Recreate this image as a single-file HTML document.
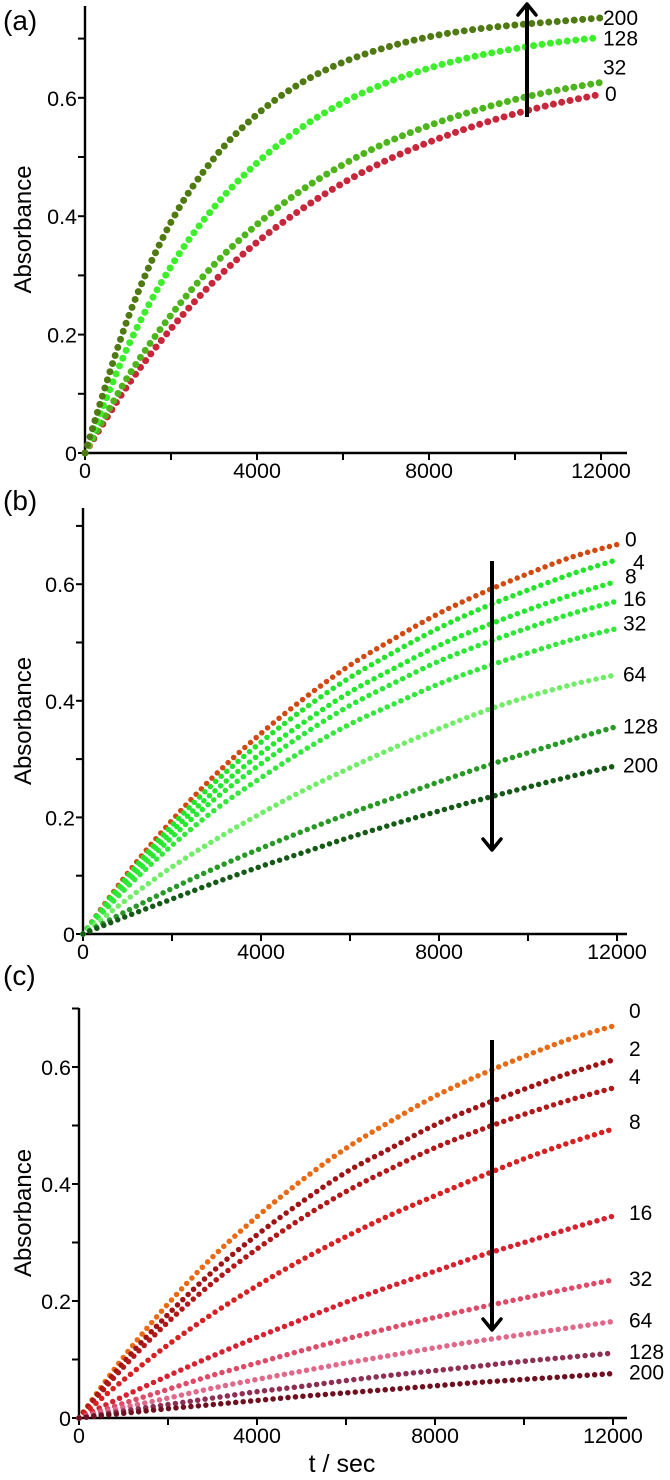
<!DOCTYPE html>
<html><head><meta charset="utf-8"><style>
html,body{margin:0;padding:0;background:#fff;width:670px;height:1480px;overflow:hidden}
svg{display:block;font-family:"Liberation Sans",sans-serif}
</style></head><body>
<svg id="chart" width="670" height="1480" viewBox="0 0 670 1480" xmlns="http://www.w3.org/2000/svg"></svg>
<script>
const times = [0,1000,2000,3000,4000,5000,6000,7000,8000,9000,10000,11000,12000];
const xTicks = [0,2000,4000,6000,8000,10000,12000];
const xTickLabels = ["0","","4000","","8000","","12000"];
const yTicks = [0,0.1,0.2,0.3,0.4,0.5,0.6,0.7];
const yTickLabels = ["0","","0.2","","0.4","","0.6",""];

const aNames = ["0","32","128","200"];
const aS0 = [0,.115,.210,.290,.356,.410,.456,.494,.525,.551,.573,.591,.606];
const aS32 = [0,.129,.233,.318,.386,.442,.487,.524,.553,.577,.597,.613,.626];
const aS128 = [0,.180,.315,.415,.490,.548,.592,.625,.650,.669,.683,.694,.702];
const aS200 = [0,.228,.390,.498,.572,.624,.660,.685,.703,.715,.723,.729,.735];

const bNames = ["0","4","8","16","32","64","128","200"];
const bS0 = [0,.104,.195,.275,.344,.406,.461,.507,.550,.586,.618,.647,.668];
const bS4 = [0,.099,.186,.263,.329,.388,.440,.484,.525,.560,.590,.618,.642];
const bS8 = [0,.094,.176,.248,.310,.365,.415,.456,.495,.527,.556,.582,.605];
const bS16 = [0,.088,.166,.234,.292,.345,.392,.431,.468,.498,.525,.550,.571];
const bS32 = [0,.081,.152,.215,.268,.317,.360,.395,.429,.457,.482,.505,.524];
const bS64 = [0,.060,.115,.163,.207,.248,.285,.320,.352,.382,.407,.428,.445];
const bS128 = [0,.040,.078,.114,.147,.178,.207,.234,.261,.287,.311,.334,.356];
const bS200 = [0,.031,.060,.089,.116,.141,.166,.189,.211,.232,.252,.271,.289];

const cNames = ["0","2","4","8","16","32","64","128","200"];
const cS0 = [0,.104,.195,.275,.344,.406,.461,.507,.550,.586,.618,.647,.670];
const cS2 = [0,.095,.177,.250,.313,.369,.420,.461,.501,.533,.562,.589,.612];
const cS4 = [0,.087,.164,.231,.289,.341,.387,.426,.462,.492,.519,.543,.564];
const cS8 = [0,.065,.125,.178,.226,.270,.310,.347,.380,.412,.443,.470,.494];
const cS16 = [0,.037,.072,.106,.138,.168,.198,.225,.251,.277,.300,.323,.345];
const cS32 = [0,.025,.049,.073,.094,.115,.135,.154,.172,.189,.205,.221,.236];
const cS64 = [0,.018,.034,.051,.066,.080,.094,.107,.120,.132,.143,.154,.165];
const cS128 = [0,.012,.023,.034,.045,.054,.064,.073,.081,.089,.097,.104,.111];
const cS200 = [0,.008,.016,.023,.030,.037,.043,.049,.055,.061,.066,.071,.076];

const NS="http://www.w3.org/2000/svg";
const svg=document.getElementById('chart');
function mk(tag,attrs,parent){const e=document.createElementNS(NS,tag);for(const k in attrs)e.setAttribute(k,attrs[k]);(parent||svg).appendChild(e);return e;}

function smoothPath(pts){
  let d="M"+pts[0][0]+","+pts[0][1];
  for(let i=0;i<pts.length-1;i++){
    const p0=pts[Math.max(i-1,0)],p1=pts[i],p2=pts[i+1],p3=pts[Math.min(i+2,pts.length-1)];
    const c1=[p1[0]+(p2[0]-p0[0])/6,p1[1]+(p2[1]-p0[1])/6];
    const c2=[p2[0]-(p3[0]-p1[0])/6,p2[1]-(p3[1]-p1[1])/6];
    d+=" C"+c1[0]+","+c1[1]+" "+c2[0]+","+c2[1]+" "+p2[0]+","+p2[1];
  }
  return d;
}

function panel(cfg){
  const g=mk('g',{});
  
  
  const X=t=>cfg.x0+t*cfg.xs;
  const Y=v=>cfg.y0-v*cfg.ys;
  const lbl=mk('text',{x:3,y:cfg.labelY,'font-size':28},g);
  lbl.textContent='('+cfg.id+')';
  
  
  const ya=mk('line',{x1:cfg.x0,y1:cfg.top,x2:cfg.x0,y2:cfg.y0+1,stroke:'#000','stroke-width':2.4},g);
  
  
  const xa=mk('line',{x1:cfg.x0-1,y1:cfg.y0,x2:627,y2:cfg.y0,stroke:'#000','stroke-width':2.4},g);
  
  
  yTicks.forEach((v,i)=>{
    mk('line',{x1:cfg.x0-7,y1:Y(v),x2:cfg.x0,y2:Y(v),stroke:'#000','stroke-width':2},g);
    if(yTickLabels[i]){
      const t=mk('text',{x:cfg.x0-8,y:Y(v)+8,'font-size':21.5,'text-anchor':'end'},g);
      t.textContent=yTickLabels[i];
      
      
    }
  });
  xTicks.forEach((v,i)=>{
    mk('line',{x1:X(v),y1:cfg.y0,x2:X(v),y2:cfg.y0+7,stroke:'#000','stroke-width':2},g);
    if(xTickLabels[i]){
      const t=mk('text',{x:X(v),y:cfg.y0+25,'font-size':21.5,'text-anchor':'middle'},g);
      t.textContent=xTickLabels[i];
      
      
    }
  });
  const yt=mk('text',{x:0,y:0,'font-size':24,'text-anchor':'middle',transform:'translate(31,'+((cfg.top+cfg.y0)/2)+') rotate(-90)'},g);
  yt.textContent='Absorbance';
  
  
  cfg.series.forEach((s,i)=>{
    const pts=times.map((t,j)=>[X(t),Y(s[j])]);
    const p=mk('path',{d:smoothPath(pts),fill:'none',stroke:cfg.colors[i],'stroke-width':cfg.dot,'stroke-linecap':'round','stroke-dasharray':'0 '+cfg.gap},g);
    
    
    const t=mk('text',{x:X(12000)+cfg.lblDx[i],y:Y(s[s.length-1])+cfg.lblDy[i],'font-size':21},g);
    t.textContent=cfg.names[i];
    
    
  });
  const a=cfg.arrow;
  const al=mk('line',{x1:a[0],y1:a[1],x2:a[0],y2:a[2],stroke:'#000','stroke-width':4},g);
  
  
  const dir=a[2]<a[1]?1:-1;
  mk('polyline',{points:(a[0]-9)+','+(a[2]+dir*11)+' '+a[0]+','+a[2]+' '+(a[0]+9)+','+(a[2]+dir*11),fill:'none',stroke:'#000','stroke-width':3.5,'stroke-linecap':'round','stroke-linejoin':'round'},g);
}

panel({id:'a',x0:85,xs:0.0430,y0:453,ys:592,top:6,labelY:30,
  series:[aS0,aS32,aS128,aS200],names:aNames,
  colors:['#c8263a','#4db51b','#3cef2a','#4f7a12'],
  lblDx:[4,2,2,2],lblDy:[7,-8,8,7],dot:7,gap:8.5,arrow:[527,117,4]});
panel({id:'b',x0:83,xs:0.0445,y0:934,ys:583,top:508,labelY:510,
  series:[bS0,bS4,bS8,bS16,bS32,bS64,bS128,bS200],names:bNames,
  colors:['#d2490f','#22e52a','#24e82c','#2ae834','#33e83a','#6fee66','#279a25','#145a16'],
  lblDx:[8,16,8,6,6,6,6,6],lblDy:[2,10,2,5,2,7,7,7],dot:5.5,gap:7.5,arrow:[492,561,850]});
panel({id:'c',x0:79,xs:0.0445,y0:1418,ys:585,top:1008,labelY:985,
  series:[cS0,cS2,cS4,cS8,cS16,cS32,cS64,cS128,cS200],names:cNames,
  colors:['#ea6a14','#9e1414','#b21818','#d82020','#d8202e','#de4a68','#e0688a','#8e2e52','#6e0e1e'],
  lblDx:[16,16,16,16,16,16,16,16,16],lblDy:[-8,-4,-4,0,4,6,6,6,6],dot:5.5,gap:7.5,arrow:[492,1040,1330]});

const xt=mk('text',{x:342,y:1472,'font-size':25,'text-anchor':'middle'});
xt.textContent='t / sec';


</script>
</body></html>
